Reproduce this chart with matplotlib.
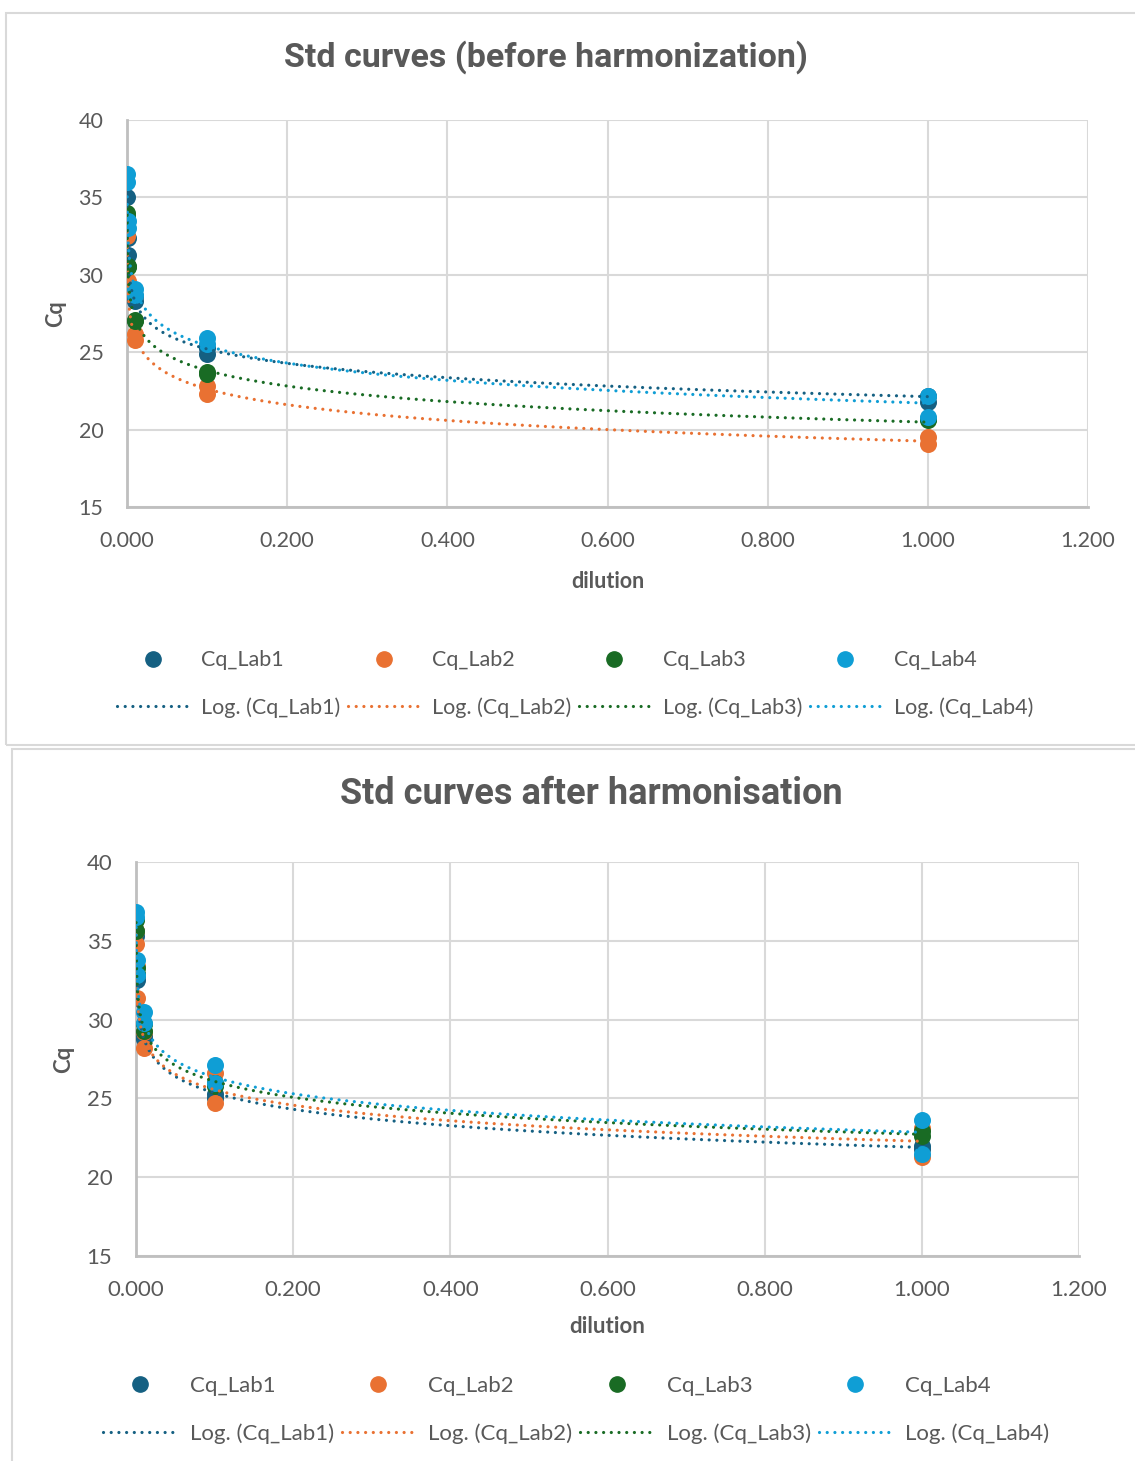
import numpy as np
import matplotlib

matplotlib.use("Agg")
import matplotlib.pyplot as plt
from matplotlib.lines import Line2D
from matplotlib.patches import Rectangle

# dilution series, two replicates per level
dilution = [1.0, 1.0, 0.1, 0.1, 0.01, 0.01, 0.001, 0.001, 0.0001, 0.0001]
labs = ["Cq_Lab1", "Cq_Lab2", "Cq_Lab3", "Cq_Lab4"]
colors = ["#156082", "#E97132", "#196B24", "#0F9ED5"]

# Cq values before harmonization
before_lab1 = [22.2, 21.8, 24.9, 25.3, 28.3, 28.6, 31.3, 32.4, 35.0, 33.0]
before_lab2 = [19.5, 19.1, 22.8, 22.3, 26.2, 25.8, 29.6, 29.2, 33.0, 32.5]
before_lab3 = [20.7, 20.6, 23.7, 23.6, 27.1, 27.0, 30.6, 30.5, 34.0, 33.8]
before_lab4 = [22.2, 20.8, 25.9, 25.5, 29.1, 28.7, 33.0, 33.5, 36.5, 36.0]

# Cq values after harmonisation
after_lab1 = [22.0, 21.8, 25.0, 25.3, 28.8, 29.0, 32.5, 32.8, 35.6, 35.3]
after_lab2 = [23.1, 21.3, 26.6, 24.7, 28.2, 29.2, 31.4, 33.4, 34.8, 35.6]
after_lab3 = [22.6, 22.9, 26.0, 25.8, 29.7, 29.3, 32.9, 33.3, 36.3, 35.6]
after_lab4 = [23.6, 21.5, 27.1, 26.0, 30.5, 29.8, 33.8, 32.8, 36.8, 36.5]

x_ticks = [0.0, 0.2, 0.4, 0.6, 0.8, 1.0, 1.2]
y_ticks = [15, 20, 25, 30, 35, 40]

TEXT = "#595959"
FONT = "Lato"
W, H = 1135, 1461
DOTS = (0, (0.01, 2.4))

plt.rcParams["font.family"] = [FONT, "DejaVu Sans"]

fig = plt.figure(figsize=(W / 100, H / 100), dpi=100)


def px_rect(x0, y0, x1, y1):
    """Figure-fraction [left, bottom, width, height] from pixel corners."""
    return [x0 / W, 1 - y1 / H, (x1 - x0) / W, (y1 - y0) / H]


# chart frames
for (x0, y0, x1, y1) in [(6, 13, 1140, 745), (12, 749, 1140, 1470)]:
    fig.patches.append(Rectangle((x0 / W, 1 - y1 / H), (x1 - x0) / W, (y1 - y0) / H,
                                 transform=fig.transFigure, fill=False,
                                 edgecolor="#d9d9d9", lw=1.5, zorder=0))


def draw_panel(rect, series, title, title_xy, title_fs, legend_xy, fs, xpad):
    ax = fig.add_axes(rect)
    xs = np.array(dilution)
    xfit = np.logspace(np.log10(xs.min()), np.log10(xs.max()), 600)
    for name, ys, c in zip(labs, series, colors):
        ax.scatter(xs, ys, s=150, color=c, zorder=3, linewidths=0)
        # logarithmic trend line, Cq = a*ln(x) + b
        a, b = np.polyfit(np.log(xs), np.array(ys), 1)
        ax.plot(xfit, a * np.log(xfit) + b, color=c, lw=2.3,
                linestyle=DOTS, dash_capstyle="round", zorder=4)

    handles = []
    for name, c in zip(labs, colors):
        handles.append(Line2D([], [], ls="none", marker="o", ms=11, color=c, label=name))
        handles.append(Line2D([], [], color=c, lw=2.3, linestyle=DOTS,
                              dash_capstyle="round", label=f"Log. ({name})"))

    ax.set_xlim(0, 1.2)
    ax.set_ylim(15, 40)
    ax.set_xticks(x_ticks)
    ax.set_xticklabels([f"{v:.3f}" for v in x_ticks])
    ax.set_yticks(y_ticks)
    ax.grid(True, color="#d9d9d9", lw=1.5)
    ax.set_axisbelow(True)
    for s in ("top", "right"):
        ax.spines[s].set_visible(False)
    for s in ("left", "bottom"):
        ax.spines[s].set_color("#bfbfbf")
        ax.spines[s].set_linewidth(2)
    ax.tick_params(length=0, labelsize=fs, colors=TEXT, pad=17)
    ax.set_xlabel("dilution", fontsize=fs, fontweight="bold", color=TEXT, labelpad=xpad)
    ax.set_ylabel("Cq", fontsize=fs, fontweight="bold", color=TEXT, labelpad=9)

    fig.text(title_xy[0] / W, 1 - title_xy[1] / H, title, ha="center", va="center",
             fontsize=title_fs, fontweight="bold", color=TEXT,
             family=["Roboto", "DejaVu Sans"])

    leg = fig.legend(handles=handles, ncol=4, loc="center left",
                     bbox_to_anchor=(legend_xy[0] / W, 1 - legend_xy[1] / H),
                     frameon=False, fontsize=fs, handlelength=3.3,
                     handletextpad=0.6, columnspacing=0.35, labelspacing=1.25)
    for t in leg.get_texts():
        t.set_color(TEXT)
    return ax


draw_panel(px_rect(127, 120, 1088, 507),
           [before_lab1, before_lab2, before_lab3, before_lab4],
           "Std curves (before harmonization)", (546, 57), 24.5, (98, 684), 15.5, 15)
draw_panel(px_rect(136, 862, 1079, 1256),
           [after_lab1, after_lab2, after_lab3, after_lab4],
           "Std curves after harmonisation", (591, 794), 26, (83, 1410), 16, 12)

fig.savefig("out.png", dpi=100)
